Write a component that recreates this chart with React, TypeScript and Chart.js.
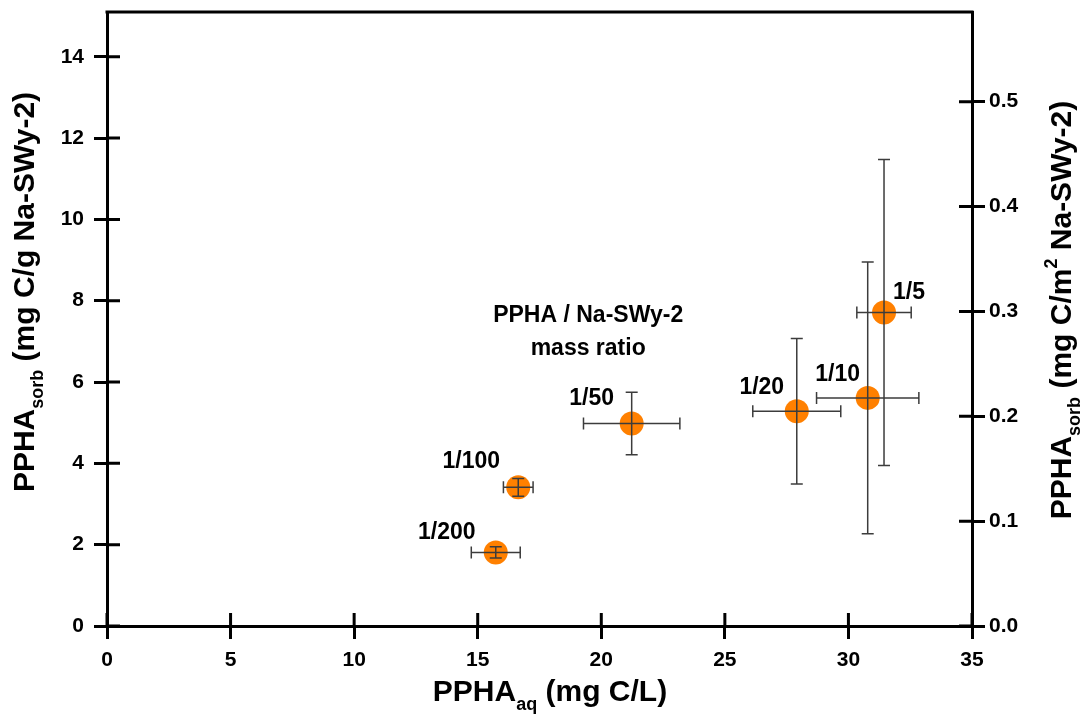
import React, { useEffect, useRef } from "react";
import { Chart, registerables } from "chart.js";

Chart.register(...registerables);

// ---- data ----
const ratioLabels = ["1/200", "1/100", "1/50", "1/20", "1/10", "1/5"];
const pphaAq = [15.73, 16.64, 21.23, 27.91, 30.78, 31.44];
const pphaSorb = [1.81, 3.41, 4.98, 5.28, 5.61, 7.71];
const pphaAqErr = [0.99, 0.6, 1.95, 1.78, 2.07, 1.1];
const pphaSorbErr = [0.14, 0.22, 0.77, 1.79, 3.34, 3.76];

const xTicks = [0, 5, 10, 15, 20, 25, 30, 35];
const leftTicks = [0, 2, 4, 6, 8, 10, 12, 14];
const rightTicks = [0, 0.1, 0.2, 0.3, 0.4, 0.5];

const xMin = 0;
const xMax = 35;
const leftMax = 15.1;
const rightMax = 0.5855;

const noteLines = ["PPHA / Na-SWy-2", "mass ratio"];

// ---- layout / style ----
const FONT = "'Liberation Sans', Arial, sans-serif";
const ORANGE = "#FF8000";
const labelOffsets = [
  [-49, -20],
  [-47, -26],
  [-40, -25],
  [-35, -24],
  [-30, -23],
  [25, -20],
];
const noteAnchor = { x: 19.47, y: 7.64 };
const TICK_IN = 13;
const TITLE = 30;
const SUB = 18;

type Part = { t: string; size: number; dy: number };

function drawRich(ctx: CanvasRenderingContext2D, parts: Part[], cx: number, cy: number, angle: number) {
  ctx.save();
  ctx.translate(cx, cy);
  ctx.rotate(angle);
  let total = 0;
  const widths = parts.map((p) => {
    ctx.font = `bold ${p.size}px ${FONT}`;
    const w = ctx.measureText(p.t).width;
    total += w;
    return w;
  });
  let x = -total / 2;
  ctx.fillStyle = "#000";
  ctx.textBaseline = "alphabetic";
  ctx.textAlign = "left";
  parts.forEach((p, i) => {
    ctx.font = `bold ${p.size}px ${FONT}`;
    ctx.fillText(p.t, x, p.dy);
    x += widths[i];
  });
  ctx.restore();
}

const decorPlugin = {
  id: "decor",
  afterDatasetsDraw(chart: any) {
    const { ctx } = chart;
    const xs = chart.scales.x;
    const ys = chart.scales.y;
    ctx.save();
    // error bars
    ctx.strokeStyle = "#3c3c3c";
    ctx.lineWidth = 1.5;
    const cap = 6;
    for (let i = 0; i < pphaAq.length; i++) {
      const px = xs.getPixelForValue(pphaAq[i]);
      const py = ys.getPixelForValue(pphaSorb[i]);
      const x0 = xs.getPixelForValue(pphaAq[i] - pphaAqErr[i]);
      const x1 = xs.getPixelForValue(pphaAq[i] + pphaAqErr[i]);
      const y0 = ys.getPixelForValue(pphaSorb[i] - pphaSorbErr[i]);
      const y1 = ys.getPixelForValue(pphaSorb[i] + pphaSorbErr[i]);
      ctx.beginPath();
      ctx.moveTo(x0, py);
      ctx.lineTo(x1, py);
      ctx.moveTo(x0, py - cap);
      ctx.lineTo(x0, py + cap);
      ctx.moveTo(x1, py - cap);
      ctx.lineTo(x1, py + cap);
      ctx.moveTo(px, y0);
      ctx.lineTo(px, y1);
      ctx.moveTo(px - cap, y0);
      ctx.lineTo(px + cap, y0);
      ctx.moveTo(px - cap, y1);
      ctx.lineTo(px + cap, y1);
      ctx.stroke();
    }
    // point labels
    ctx.fillStyle = "#000";
    ctx.font = `bold 23px ${FONT}`;
    ctx.textAlign = "center";
    ctx.textBaseline = "middle";
    for (let i = 0; i < pphaAq.length; i++) {
      const px = xs.getPixelForValue(pphaAq[i]);
      const py = ys.getPixelForValue(pphaSorb[i]);
      ctx.fillText(ratioLabels[i], px + labelOffsets[i][0], py + labelOffsets[i][1]);
    }
    // note
    const nx = xs.getPixelForValue(noteAnchor.x);
    const ny = ys.getPixelForValue(noteAnchor.y);
    ctx.font = `bold 23px ${FONT}`;
    noteLines.forEach((line, i) => ctx.fillText(line, nx, ny + i * 33));
    ctx.restore();
  },
  afterDraw(chart: any) {
    const { ctx, chartArea } = chart;
    const { left, right, top, bottom } = chartArea;
    ctx.save();
    ctx.strokeStyle = "#000";
    ctx.lineWidth = 3;
    ctx.lineCap = "butt";
    // top frame
    ctx.beginPath();
    ctx.moveTo(left - 1.5, top);
    ctx.lineTo(right + 1.5, top);
    ctx.stroke();
    // inner tick marks
    ctx.beginPath();
    chart.scales.x.ticks.forEach((t: any) => {
      const p = chart.scales.x.getPixelForValue(t.value);
      ctx.moveTo(p, bottom);
      ctx.lineTo(p, bottom - TICK_IN);
    });
    chart.scales.y.ticks.forEach((t: any) => {
      const p = chart.scales.y.getPixelForValue(t.value);
      ctx.moveTo(left, p);
      ctx.lineTo(left + TICK_IN, p);
    });
    chart.scales.y2.ticks.forEach((t: any) => {
      const p = chart.scales.y2.getPixelForValue(t.value);
      ctx.moveTo(right, p);
      ctx.lineTo(right - TICK_IN, p);
    });
    ctx.stroke();
    ctx.restore();

    // axis titles
    drawRich(
      ctx,
      [
        { t: "PPHA", size: TITLE, dy: 0 },
        { t: "aq", size: SUB, dy: 9 },
        { t: " (mg C/L)", size: TITLE, dy: 0 },
      ],
      550,
      701,
      0
    );
    drawRich(
      ctx,
      [
        { t: "PPHA", size: TITLE, dy: 0 },
        { t: "sorb", size: SUB, dy: 9 },
        { t: " (mg C/g Na-SWy-2)", size: TITLE, dy: 0 },
      ],
      34,
      292,
      -Math.PI / 2
    );
    drawRich(
      ctx,
      [
        { t: "PPHA", size: TITLE, dy: 0 },
        { t: "sorb", size: SUB, dy: 9 },
        { t: " (mg C/m", size: TITLE, dy: 0 },
        { t: "2", size: SUB, dy: -14 },
        { t: " Na-SWy-2)", size: TITLE, dy: 0 },
      ],
      1071,
      310,
      -Math.PI / 2
    );
  },
};

const tickFont = { family: FONT, size: 21, weight: "bold" as const };
const axisGrid = {
  display: true,
  drawOnChartArea: false,
  drawTicks: true,
  tickLength: 13,
  lineWidth: 3,
  color: "#000",
};
const axisBorder = { display: true, color: "#000", width: 3 };

const fitY = (w: number) => (s: any) => {
  s.width = w;
  s.paddingTop = 0;
  s.paddingBottom = 0;
};

export default function App() {
  const ref = useRef<HTMLCanvasElement | null>(null);
  useEffect(() => {
    if (!ref.current) return;
    const chart = new Chart(ref.current, {
      type: "scatter",
      data: {
        datasets: [
          {
            data: pphaAq.map((x, i) => ({ x, y: pphaSorb[i] })),
            backgroundColor: ORANGE,
            borderWidth: 0,
            pointRadius: 12,
            pointHoverRadius: 12,
            yAxisID: "y",
          },
        ],
      },
      options: {
        animation: false,
        responsive: false,
        maintainAspectRatio: false,
        events: [],
        layout: { padding: { top: 11, left: 0, right: 0, bottom: 0 } },
        plugins: { legend: { display: false }, tooltip: { enabled: false } },
        scales: {
          x: {
            type: "linear",
            min: xMin,
            max: xMax,
            grid: axisGrid,
            border: axisBorder,
            ticks: { font: tickFont, color: "#000", padding: 9, maxRotation: 0 },
            afterBuildTicks: (s: any) => {
              s.ticks = xTicks.map((v) => ({ value: v }));
            },
            afterFit: (s: any) => {
              s.height = 89;
              s.paddingLeft = 0;
              s.paddingRight = 0;
            },
          },
          y: {
            type: "linear",
            position: "left",
            min: 0,
            max: leftMax,
            grid: axisGrid,
            border: axisBorder,
            ticks: { font: tickFont, color: "#000", padding: 10 },
            afterBuildTicks: (s: any) => {
              s.ticks = leftTicks.map((v) => ({ value: v }));
            },
            afterFit: fitY(107),
          },
          y2: {
            type: "linear",
            position: "right",
            min: 0,
            max: rightMax,
            grid: axisGrid,
            border: axisBorder,
            ticks: {
              font: tickFont,
              color: "#000",
              padding: 4,
              callback: (v: any) => Number(v).toFixed(1),
            },
            afterBuildTicks: (s: any) => {
              s.ticks = rightTicks.map((v) => ({ value: v }));
            },
            afterFit: fitY(114),
          },
        },
      },
      plugins: [decorPlugin],
    });
    return () => chart.destroy();
  }, []);
  return (
    <div style={{ position: "fixed", left: 0, top: 0, width: 1086, height: 715, background: "#fff" }}>
      <canvas ref={ref} width={1086} height={715} style={{ display: "block" }} />
    </div>
  );
}
